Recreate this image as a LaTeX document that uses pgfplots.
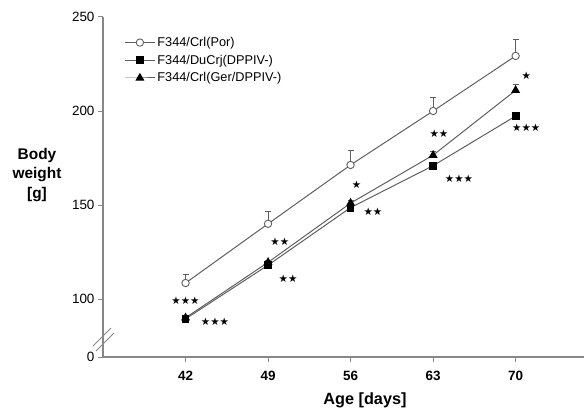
\documentclass[border=0pt]{standalone}
\usepackage{pgfplots}
\pgfplotsset{compat=1.18}
\usepackage{fontspec}
\setmainfont{Liberation Sans}
\newfontfamily\symfont{DejaVu Sans}
\definecolor{axisgray}{RGB}{135,135,135}
\definecolor{linegray}{RGB}{95,95,95}
\begin{document}
\begin{tikzpicture}[x=1bp,y=1bp]
\begin{axis}[
  at={(0,0)}, anchor=south west,
  scale only axis, width=481bp, height=340bp,
  xmin=35, xmax=75.8, ymin=69.15, ymax=250,
  axis x line*=bottom, axis y line*=left,
  axis line style={draw=axisgray, line width=1.3bp},
  xtick={42,49,56,63,70}, xticklabels={42,49,56,63,70},
  ytick={69.15,100,150,200,250}, yticklabels={0,100,150,200,250},
  tick align=outside, major tick length=5bp,
  tick style={axisgray, line width=1bp},
  /pgf/number format/assume math mode=true,
  xticklabel style={font=\fontsize{13.5}{15}\selectfont\bfseries, yshift=-6bp},
  yticklabel style={font=\fontsize{13.5}{15}\selectfont, xshift=0bp},
  legend style={at={(rel axis cs:0.042,0.95)}, anchor=north west, draw=none, fill=none,
    font=\fontsize{12.8}{14}\selectfont, row sep=3bp, inner sep=1bp},
  legend cell align=left,
  legend image code/.code={\draw[mark repeat=2,mark phase=2] plot coordinates {(0bp,0bp) (15bp,0bp) (30bp,0bp)};},
  clip=false,
]
\addplot[color=linegray, line width=1bp, mark=*, mark size=3.7bp,
  mark options={fill=white, draw=linegray, line width=0.9bp},
  error bars/.cd, y dir=plus, y explicit,
  error bar style={color=linegray, line width=1bp},
  error mark options={rotate=90, color=linegray, mark size=3bp, line width=1bp}]
  table[x=x, y=y, y error=e] {
x y e
42 108.5 4.3
49 140.0 6.5
56 171.3 7.7
63 200.0 7.0
70 229.3 8.5
};
\addlegendentry{F344/Crl(Por)}
\addplot[color=linegray, line width=1bp, mark=square*, mark size=3.4bp,
  mark options={fill=black, draw=black},
  error bars/.cd, y dir=plus, y explicit,
  error bar style={color=linegray, line width=1bp},
  error mark options={rotate=90, color=linegray, mark size=3bp, line width=1bp}]
  table[x=x, y=y, y error=e] {
x y e
42 89.4 1.0
49 118.0 1.0
56 148.6 1.2
63 170.9 1.2
70 197.3 1.2
};
\addlegendentry{F344/DuCrj(DPPIV-)}
\addplot[color=linegray, line width=1bp, mark=triangle*, mark size=4.2bp,
  mark options={fill=black, draw=black},
  error bars/.cd, y dir=plus, y explicit,
  error bar style={color=linegray, line width=1bp},
  error mark options={rotate=90, color=linegray, mark size=3bp, line width=1bp}]
  table[x=x, y=y, y error=e] {
x y e
42 90.0 0.8
49 119.5 1.0
56 151.0 1.5
63 176.5 1.8
70 211.0 3.2
};
\addlegendentry{F344/Crl(Ger/DPPIV-)}
\node[font=\symfont\fontsize{10.5}{11}\selectfont] at (axis cs:42,99) {★★★};
\node[font=\symfont\fontsize{10.5}{11}\selectfont] at (axis cs:44.5,87.8) {★★★};
\node[font=\symfont\fontsize{10.5}{11}\selectfont] at (axis cs:50.0,130.5) {★★};
\node[font=\symfont\fontsize{10.5}{11}\selectfont] at (axis cs:50.7,111.0) {★★};
\node[font=\symfont\fontsize{10.5}{11}\selectfont] at (axis cs:56.5,160.6) {★};
\node[font=\symfont\fontsize{10.5}{11}\selectfont] at (axis cs:57.9,146.4) {★★};
\node[font=\symfont\fontsize{10.5}{11}\selectfont] at (axis cs:63.5,187.8) {★★};
\node[font=\symfont\fontsize{10.5}{11}\selectfont] at (axis cs:65.2,163.8) {★★★};
\node[font=\symfont\fontsize{10.5}{11}\selectfont] at (axis cs:70.9,218.6) {★};
\node[font=\symfont\fontsize{10.5}{11}\selectfont] at (axis cs:70.9,191.0) {★★★};
\end{axis}
\draw[axisgray, line width=1bp] (-10,11) -- (8,29);
\draw[axisgray, line width=1bp] (-7,6) -- (11,24);
\node[font=\bfseries\fontsize{15.5}{20}\selectfont, align=center] at (-66,182) {Body\\weight\\{[g]}};
\node[font=\bfseries\fontsize{16.3}{18}\selectfont] at (262,-43) {Age [days]};
\pgfresetboundingbox
\useasboundingbox (-103,-57) rectangle (481,357);
\end{tikzpicture}
\end{document}
